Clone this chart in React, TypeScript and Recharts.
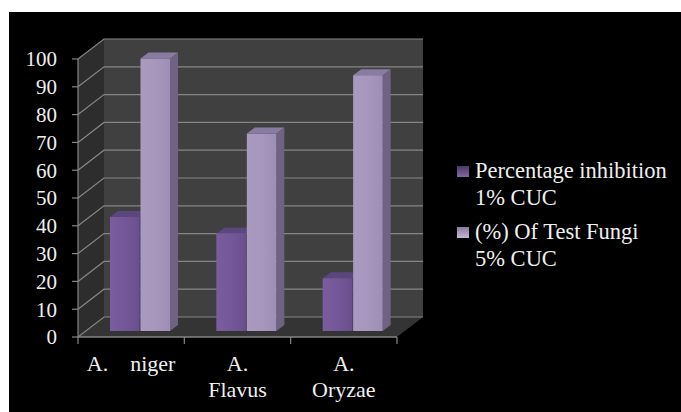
// Inhibition of test fungi, mock 3D columns on black.
import { BarChart, Bar, XAxis, YAxis, CartesianGrid, Legend, ReferenceArea } from "recharts";

const categories = ["A.    niger", "A.\nFlavus", "A.\nOryzae"];
const pct1 = [41, 35, 19];
const pct5 = [98, 71, 92];
const yTicks = [0, 10, 20, 30, 40, 50, 60, 70, 80, 90, 100];
const series1Name = "Percentage inhibition\n1% CUC";
const series5Name = "(%) Of Test Fungi\n5% CUC";

const rows = categories.map((name, i) => ({ name, a: pct1[i], b: pct5[i] }));

const SERIF = "'Liberation Serif', serif";
const INK = "#efefef";
const RULE = "#858585";
// depth of the room and of a column
const WALL_DX = 26;
const WALL_DY = 20;
const BAR_DX = 8;
const BAR_DY = 6;
const SHIFT_X = 9;
const SHIFT_Y = 6;

const W = 672;
const H = 400;
const plotW = 319;

function Room({ x, y, width, height }: any) {
  const b = y + height;
  const r = x + width;
  return (
    <g>
      <rect x={x + WALL_DX} y={y - WALL_DY} width={width} height={height} fill="#404040" />
      <polygon points={`${x},${y} ${x + WALL_DX},${y - WALL_DY} ${x + WALL_DX},${b - WALL_DY} ${x},${b}`} fill="#2d2d2d" />
      <polygon points={`${x},${b} ${r},${b} ${r + WALL_DX},${b - WALL_DY} ${x + WALL_DX},${b - WALL_DY}`} fill="#343434" />
    </g>
  );
}

function gridLine({ x1, y1, x2, y2 }: any) {
  return (
    <polyline
      key={y1}
      points={`${x1},${y1} ${x1 + WALL_DX},${y1 - WALL_DY} ${x2 + WALL_DX},${y2 - WALL_DY}`}
      fill="none"
      stroke={RULE}
      strokeWidth={1.2}
    />
  );
}

const column = (side: string, top: string, gradId: string) => (props: any) => {
  const { x, y, width, height } = props;
  const l = x + SHIFT_X;
  const t = y - SHIFT_Y;
  const r = l + width;
  const b = t + height;
  return (
    <g>
      <polygon points={`${r},${t} ${r + BAR_DX},${t - BAR_DY} ${r + BAR_DX},${b - BAR_DY} ${r},${b}`} fill={side} />
      <polygon points={`${l},${t} ${l + BAR_DX},${t - BAR_DY} ${r + BAR_DX},${t - BAR_DY} ${r},${t}`} fill={top} />
      <rect x={l} y={t} width={width} height={height} fill={`url(#${gradId})`} />
    </g>
  );
};

function CatTick({ x, y, payload, index }: any) {
  const band = plotW / categories.length;
  const lines = String(payload.value).split("\n");
  return (
    <g>
      <line x1={x - band / 2} x2={x - band / 2} y1={y - 8} y2={y - 1} stroke={RULE} strokeWidth={1.2} />
      {index === categories.length - 1 && (
        <line x1={x + band / 2} x2={x + band / 2} y1={y - 8} y2={y - 1} stroke={RULE} strokeWidth={1.2} />
      )}
      <text textAnchor="middle" fill={INK} fontFamily={SERIF} fontSize={22} style={{ whiteSpace: "pre" }}>
        {lines.map((l, i) => (
          <tspan key={i} x={x} y={y + 26 + i * 26} style={{ whiteSpace: "pre" }}>{l}</tspan>
        ))}
      </text>
    </g>
  );
}

function LegendBox() {
  const items = [
    { label: series1Name, from: "#4a3a63", to: "#8468a8" },
    { label: series5Name, from: "#8a7c9c", to: "#c4b6d6" },
  ];
  return (
    <div style={{ fontFamily: SERIF, fontSize: 22.5, lineHeight: "26.5px", color: INK }}>
      {items.map((it, i) => (
        <div key={i} style={{ position: "relative", paddingLeft: 18, marginBottom: i === 0 ? 8 : 0, whiteSpace: "pre" }}>
          <span
            style={{
              position: "absolute", left: 0, top: 8, width: 12, height: 11,
              background: `linear-gradient(180deg, ${it.from}, ${it.to})`,
            }}
          />
          {it.label}
        </div>
      ))}
    </div>
  );
}

export default function App() {
  return (
    <div style={{ position: "absolute", left: 9, top: 12, width: W, height: H, background: "#000" }}>
      <BarChart
        width={W}
        height={H}
        data={rows}
        margin={{ top: 47, right: 284, bottom: 0, left: 0 }}
        barSize={29.5}
        barGap={1}
      >
        <defs>
          <linearGradient id="frontDark" x1="0" y1="0" x2="1" y2="0">
            <stop offset="0%" stopColor="#7a5d9f" />
            <stop offset="50%" stopColor="#745798" />
            <stop offset="100%" stopColor="#6a4f8d" />
          </linearGradient>
          <linearGradient id="frontLight" x1="0" y1="0" x2="1" y2="0">
            <stop offset="0%" stopColor="#aa9ac0" />
            <stop offset="50%" stopColor="#a797bc" />
            <stop offset="100%" stopColor="#9e8eb6" />
          </linearGradient>
        </defs>
        <ReferenceArea y1={0} y2={100} shape={Room} fill="none" stroke="none" ifOverflow="visible" zIndex={-200} />
        <CartesianGrid vertical={false} horizontal={gridLine} />
        <XAxis
          dataKey="name"
          height={75}
          interval={0}
          axisLine={{ stroke: RULE, strokeWidth: 1.5 }}
          tickLine={false}
          tick={CatTick}
          tickSize={6}
        />
        <YAxis
          width={69}
          domain={[0, 100]}
          ticks={yTicks}
          interval={0}
          axisLine={{ stroke: RULE, strokeWidth: 1.2 }}
          tickLine={{ stroke: RULE, strokeWidth: 1.2 }}
          tickSize={6}
          tickMargin={15}
          tick={{ fill: INK, fontFamily: SERIF, fontSize: 21 }}
        />
        <Legend
          layout="vertical"
          align="center"
          verticalAlign="middle"
          content={<LegendBox />}
          wrapperStyle={{ left: 448, top: 146, width: 224 }}
        />
        <Bar dataKey="a" isAnimationActive={false} shape={column("#54426e", "#5c4680", "frontDark")} />
        <Bar dataKey="b" isAnimationActive={false} shape={column("#6f6282", "#8a7ba2", "frontLight")} />
      </BarChart>
    </div>
  );
}
